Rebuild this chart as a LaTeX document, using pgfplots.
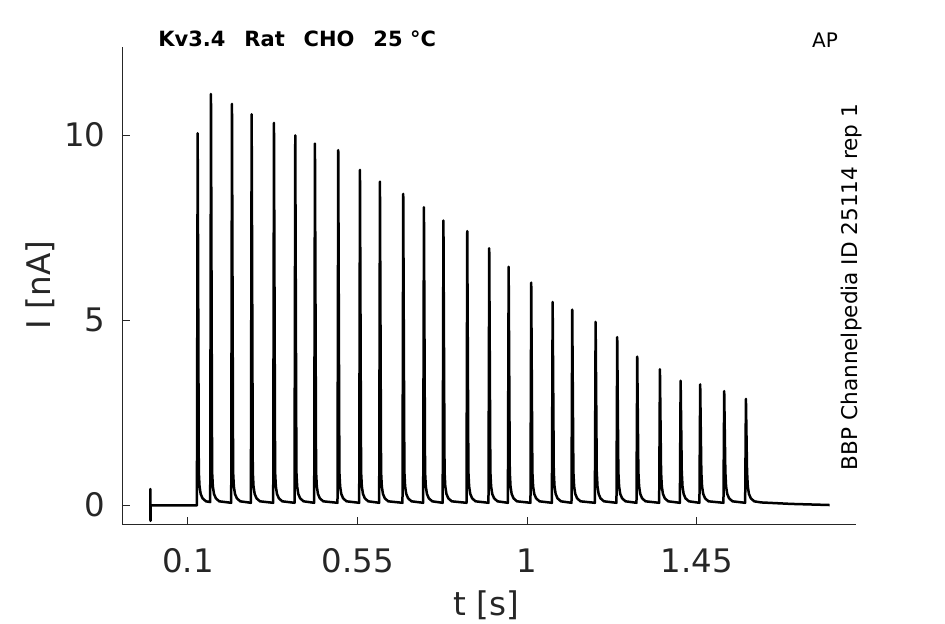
\documentclass[border=0pt]{standalone}
\usepackage{fontspec}
\setmainfont{DejaVu Sans}
\usepackage{pgfplots}
\pgfplotsset{compat=1.18}
\usepackage{pgfplotstable}
\definecolor{axgray}{HTML}{262626}
\pgfplotstableread{
t I
0.0000 -0.01
0.0003 0.43
0.0006 -0.43
0.0010 -0.01
0.0600 -0.01
0.1237 -0.01
0.1257 10.05
0.1287 0.9
0.1307 0.5
0.1337 0.3
0.1387 0.18
0.1477 0.10
0.1590 0.08
0.1610 11.11
0.1640 0.9
0.1660 0.5
0.1690 0.3
0.1740 0.18
0.1830 0.10
0.2147 0.06
0.2167 10.84
0.2197 0.9
0.2217 0.5
0.2247 0.3
0.2297 0.18
0.2387 0.10
0.2669 0.06
0.2689 10.56
0.2719 0.9
0.2739 0.5
0.2769 0.3
0.2819 0.18
0.2909 0.10
0.3261 0.06
0.3281 10.33
0.3311 0.9
0.3331 0.5
0.3361 0.3
0.3411 0.18
0.3501 0.10
0.3826 0.06
0.3846 9.99
0.3876 0.9
0.3896 0.5
0.3926 0.3
0.3976 0.18
0.4066 0.10
0.4348 0.06
0.4368 9.77
0.4398 0.9
0.4418 0.5
0.4448 0.3
0.4498 0.18
0.4588 0.10
0.4966 0.06
0.4986 9.59
0.5016 0.9
0.5036 0.5
0.5066 0.3
0.5116 0.18
0.5206 0.10
0.5542 0.06
0.5562 9.06
0.5592 0.9
0.5612 0.5
0.5642 0.3
0.5692 0.18
0.5782 0.10
0.6072 0.06
0.6092 8.74
0.6122 0.9
0.6142 0.5
0.6172 0.3
0.6222 0.18
0.6312 0.10
0.6690 0.06
0.6710 8.41
0.6740 0.9
0.6760 0.5
0.6790 0.3
0.6840 0.18
0.6930 0.10
0.7239 0.06
0.7259 8.05
0.7289 0.9
0.7309 0.5
0.7339 0.3
0.7389 0.18
0.7479 0.10
0.7756 0.06
0.7776 7.69
0.7806 0.9
0.7826 0.5
0.7856 0.3
0.7906 0.18
0.7996 0.10
0.8388 0.06
0.8408 7.40
0.8438 0.9
0.8458 0.5
0.8488 0.3
0.8538 0.18
0.8628 0.10
0.8971 0.06
0.8991 6.94
0.9021 0.9
0.9041 0.5
0.9071 0.3
0.9121 0.18
0.9211 0.10
0.9486 0.06
0.9506 6.44
0.9536 0.9
0.9556 0.5
0.9586 0.3
0.9636 0.18
0.9726 0.10
1.0085 0.06
1.0105 6.01
1.0135 0.9
1.0155 0.5
1.0185 0.3
1.0235 0.18
1.0325 0.10
1.0653 0.06
1.0673 5.49
1.0703 0.9
1.0723 0.5
1.0753 0.3
1.0803 0.18
1.0893 0.10
1.1173 0.06
1.1193 5.28
1.1223 0.9
1.1243 0.5
1.1273 0.3
1.1323 0.18
1.1413 0.10
1.1793 0.06
1.1813 4.95
1.1843 0.9
1.1863 0.5
1.1893 0.3
1.1943 0.18
1.2033 0.10
1.2366 0.06
1.2386 4.54
1.2416 0.9
1.2436 0.5
1.2466 0.3
1.2516 0.18
1.2606 0.10
1.2897 0.06
1.2917 4.01
1.2947 0.9
1.2967 0.5
1.2997 0.3
1.3047 0.18
1.3137 0.10
1.3499 0.06
1.3519 3.67
1.3549 0.9
1.3569 0.5
1.3599 0.3
1.3649 0.18
1.3739 0.10
1.4048 0.06
1.4068 3.36
1.4098 0.9
1.4118 0.5
1.4148 0.3
1.4198 0.18
1.4288 0.10
1.4567 0.06
1.4587 3.26
1.4617 0.9
1.4637 0.5
1.4667 0.3
1.4717 0.18
1.4807 0.10
1.5204 0.06
1.5224 3.08
1.5254 0.9
1.5274 0.5
1.5304 0.3
1.5354 0.18
1.5444 0.10
1.5780 0.06
1.5800 2.87
1.5830 0.9
1.5850 0.5
1.5880 0.3
1.5930 0.18
1.6020 0.10
1.6200 0.07
1.7000 0.03
1.8020 0.00
}\trace
\begin{document}
\begin{tikzpicture}
\path[use as bounding box] (0,0) rectangle (472.5pt,312pt);
\begin{axis}[
  at={(61pt,49.5pt)}, anchor=south west,
  width=367pt, height=239pt, scale only axis,
  xmin=-0.075, xmax=1.872, ymin=-0.54, ymax=12.38,
  axis x line*=bottom, axis y line*=left,
  axis line style={-, draw=axgray, line width=0.5pt},
  tick style={draw=axgray, line width=0.5pt},
  tick align=inside, major tick length=4pt,
  xtick={0.1,0.55,1,1.45}, xticklabels={0.1,0.55,1,1.45},
  ytick={0,5,10}, yticklabels={0,5,10},
  /pgf/number format/assume math mode=true,
  ticklabel style={font=\fontsize{16.2}{16.2}\selectfont, text=axgray, inner sep=0pt},
  xticklabel style={anchor=north, yshift=-11.5pt},
  yticklabel style={anchor=east, xshift=-8pt},
  clip=false,
]
\addplot[black, line width=1.25pt, line join=round, mark=none] table[x=t, y=I] {\trace};
\node[anchor=base west, inner sep=0pt, font=\bfseries\fontsize{10.5}{10.5}\selectfont]
  at (rel axis cs:0.049,1) {Kv3.4\hspace{0.9em}Rat\hspace{0.9em}CHO\hspace{0.9em}25 °C};
\node[anchor=base west, inner sep=0pt, font=\fontsize{10}{10}\selectfont]
  at (rel axis cs:0.9397,0.998) {AP};
\node[anchor=base, rotate=90, inner sep=0pt, font=\fontsize{10.8}{10.8}\selectfont]
  at (rel axis cs:1.0027,0.498) {BBP Channelpedia ID 25114 rep 1};
\node[anchor=base, inner sep=0pt, text=axgray, font=\fontsize{16.3}{16.3}\selectfont]
  at (rel axis cs:0.4966,-0.190) {t [s]};
\node[anchor=base, rotate=90, inner sep=0pt, text=axgray, font=\fontsize{16.3}{16.3}\selectfont]
  at (rel axis cs:-0.098,0.502) {I [nA]};
\end{axis}
\end{tikzpicture}
\end{document}
